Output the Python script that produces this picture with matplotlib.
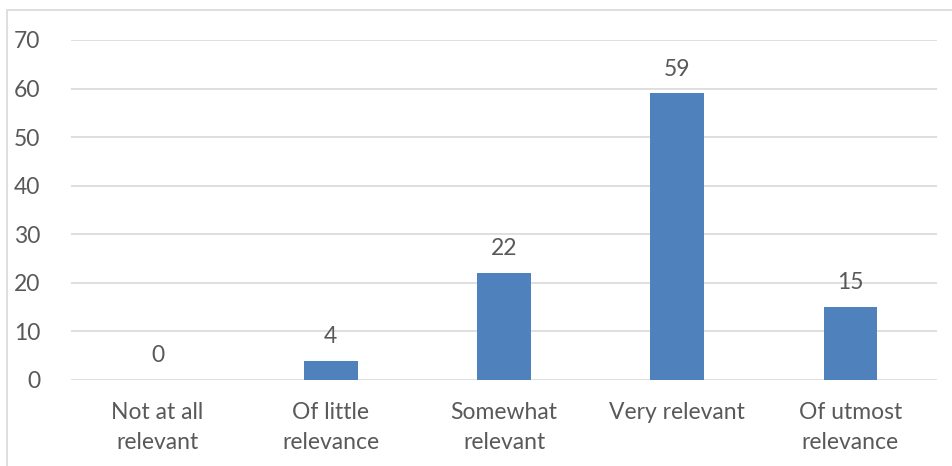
import matplotlib
matplotlib.use("Agg")
import matplotlib.pyplot as plt
from matplotlib.patches import Rectangle

categories = ["Not at all\nrelevant", "Of little\nrelevance", "Somewhat\nrelevant",
              "Very relevant", "Of utmost\nrelevance"]
counts = [0, 4, 22, 59, 15]
yticks = [0, 10, 20, 30, 40, 50, 60, 70]

plt.rcParams['font.family'] = ['Lato', 'DejaVu Sans']
text_col = "#595959"
bar_col = "#4f81bd"
grid_col = "#d9d9d9"

W, H = 952, 466
fig = plt.figure(figsize=(W / 100, H / 100), dpi=100)

# chart area border (runs off the right and bottom edges)
fig.patches.append(Rectangle((7 / W, -0.05), 1.1, 1 - 10 / H + 0.05,
                             transform=fig.transFigure, fill=False,
                             edgecolor=grid_col, linewidth=1.2))

ax = fig.add_axes([71 / W, 1 - 380 / H, (937 - 71) / W, 340 / H])
x = range(len(categories))
bars = ax.bar(x, counts, width=0.31, color=bar_col, zorder=3)

for xi, v in zip(x, counts):
    ax.annotate(str(v), (xi, v), xytext=(0, 10), textcoords="offset points",
                ha="center", va="bottom", fontsize=16.5, color=text_col)

ax.set_xlim(-0.5, len(categories) - 0.5)
ax.set_ylim(0, 70)
ax.set_yticks(yticks)
ax.set_xticks(list(x))
ax.set_xticklabels(categories, linespacing=1.5)
ax.tick_params(axis="both", length=0, labelsize=16.5, colors=text_col)
ax.tick_params(axis="y", pad=22)
ax.tick_params(axis="x", pad=16)
ax.grid(axis="y", color=grid_col, linewidth=1.2, zorder=0)
for s in ax.spines.values():
    s.set_visible(False)

fig.savefig("out.png", dpi=100)
